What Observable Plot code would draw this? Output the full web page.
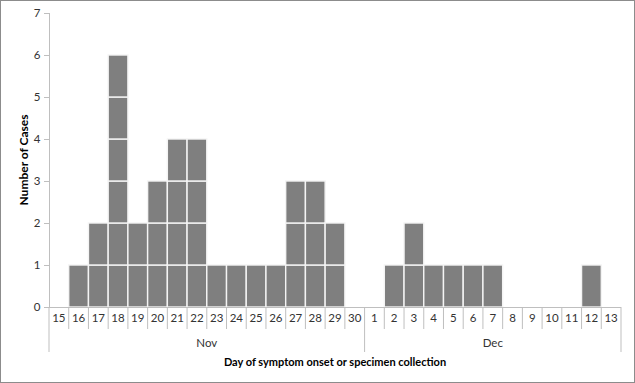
<!DOCTYPE html>
<html>
<head>
<meta charset="utf-8">
<script src="https://cdn.jsdelivr.net/npm/d3@7"></script>
<script src="https://cdn.jsdelivr.net/npm/@observablehq/plot@0.6"></script>
<style>
  html, body { margin: 0; padding: 0; background: #fff; }
  #wrap { width: 635px; height: 383px; box-sizing: border-box; border: 1px solid #8c8c8c; overflow: hidden; }
  svg { display: block; }
</style>
</head>
<body>
<div id="wrap"></div>
<script>
const days = ["15","16","17","18","19","20","21","22","23","24","25","26","27","28","29","30",
              "1","2","3","4","5","6","7","8","9","10","11","12","13"];
const months = ["Nov","Nov","Nov","Nov","Nov","Nov","Nov","Nov","Nov","Nov","Nov","Nov","Nov","Nov","Nov","Nov",
                "Dec","Dec","Dec","Dec","Dec","Dec","Dec","Dec","Dec","Dec","Dec","Dec","Dec"];
const cases = [0,1,2,6,2,3,4,4,1,1,1,1,3,3,2,0,
               0,1,2,1,1,1,1,0,0,0,0,1,0];
const yTicks = [0,1,2,3,4,5,6,7];
const monthNames = ["Nov","Dec"];
const xTitle = "Day of symptom onset or specimen collection";
const yTitle = "Number of Cases";

const keys = days.map((d, i) => months[i] + " " + d);
const blocks = [];
cases.forEach((c, i) => { for (let k = 0; k < c; k++) blocks.push({key: keys[i], y1: k, y2: k + 1}); });

const font = "Lato, 'Open Sans', sans-serif";
const W = 633, H = 381;
const ML = 48, MR = 13;
const chart = Plot.plot({
  width: W, height: H,
  marginLeft: ML, marginRight: MR, marginTop: 12, marginBottom: 75,
  style: {fontFamily: font, fontSize: "11px", color: "#333", background: "#fff"},
  x: {type: "band", domain: keys, paddingInner: 0, paddingOuter: 0, round: false, range: [ML, W - MR], axis: null},
  y: {domain: [0, 7], axis: null},
  marks: [
    Plot.barY(blocks, {x: "key", y1: "y1", y2: "y2", fill: "#7f7f7f", stroke: "#f4f4f4", strokeWidth: 1.4, inset: 0}),
    Plot.ruleY([0], {stroke: "#bfbfbf"}),
    Plot.frame({anchor: "left", stroke: "#bfbfbf"}),
    Plot.axisY({ticks: yTicks, tickSize: 5, tickPadding: 4, stroke: "#bfbfbf", fill: "#333", fontSize: 11.5, tickFormat: d => d})
  ]
});
document.getElementById("wrap").appendChild(chart);

const xs = chart.scale("x");
const ys = chart.scale("y");
const bw = xs.bandwidth;
const y0 = ys.apply(0);
const svg = d3.select(chart);
const g = svg.append("g").attr("font-family", font);
const edge = i => i < keys.length ? xs.apply(keys[i]) : xs.apply(keys[keys.length - 1]) + bw;
for (let i = 0; i <= keys.length; i++) {
  const isMonth = i === 0 || i === keys.length || months[i] !== months[i - 1];
  g.append("line").attr("x1", edge(i)).attr("x2", edge(i))
    .attr("y1", y0).attr("y2", y0 + (isMonth ? 45 : 22))
    .attr("stroke", "#bfbfbf").attr("stroke-width", 1);
}
keys.forEach((k, i) => {
  g.append("text").attr("x", xs.apply(k) + bw / 2).attr("y", y0 + 15)
    .attr("text-anchor", "middle").attr("font-size", 11.5).attr("fill", "#333").text(days[i]);
});
monthNames.forEach(m => {
  const idx = keys.map((k, i) => i).filter(i => months[i] === m);
  const a = edge(idx[0]), b = edge(idx[idx.length - 1] + 1);
  g.append("text").attr("x", (a + b) / 2).attr("y", y0 + 40)
    .attr("text-anchor", "middle").attr("font-size", 11.5).attr("fill", "#333").text(m);
});
g.append("text").attr("x", (edge(0) + edge(keys.length)) / 2).attr("y", y0 + 59)
  .attr("text-anchor", "middle").attr("font-size", 11).attr("font-weight", "bold").attr("fill", "#000").text(xTitle);
g.append("text").attr("transform", `translate(27,${(ys.apply(0) + ys.apply(7)) / 2}) rotate(-90)`)
  .attr("text-anchor", "middle").attr("font-size", 12).attr("font-weight", "bold").attr("fill", "#000").text(yTitle);
</script>
</body>
</html>
